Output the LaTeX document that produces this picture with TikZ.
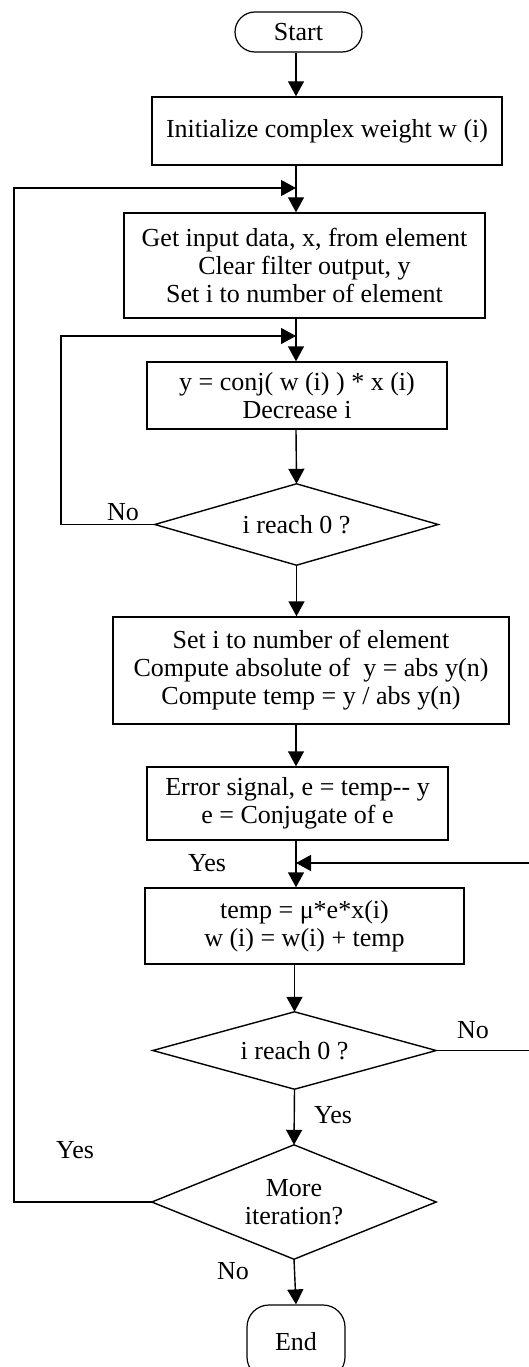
\documentclass[tikz,border=0pt]{standalone}
\usepackage{fontspec}
\setmainfont{Liberation Serif}
\usetikzlibrary{arrows.meta}
\begin{document}
\begin{tikzpicture}[x=1pt,y=-1pt,
  every node/.style={font=\fontsize{26}{28}\selectfont},
  box/.style={draw, line width=1.4pt, align=center, inner sep=0pt},
  term/.style={draw, line width=1.2pt, rounded corners=20pt, align=center, inner sep=0pt},
  dshape/.style={inner sep=0pt, align=center},
  conn/.style={line width=1.4pt},
  arr/.style={conn, -{Triangle[length=15pt,width=16pt]}},
  lbl/.style={inner sep=0pt}
]
\useasboundingbox (0,0) rectangle (529,1367);
\clip (0,0) rectangle (529,1367);

\coordinate (c) at (296,0);
\coordinate (L1) at (14,0);
\coordinate (L2) at (61,0);
\coordinate (R) at (545,0);
\coordinate (j1) at (296,188);
\coordinate (j2) at (296,336);
\coordinate (j3) at (296,863);

\node[term, minimum width=127pt, minimum height=40pt] (start) at (298.5,32) {Start};
\node[box, minimum width=350pt, minimum height=68pt] (init) at (327,131) {Initialize complex weight w (i)};
\node[box, minimum width=361pt, minimum height=105pt] (box2) at (304.5,265.5) {Get input data, x, from element\\Clear filter output, y\\Set i to number of element};
\node[box, minimum width=300pt, minimum height=67pt] (box3) at (297,395.5) {y = conj( w (i) ) * x (i)\\Decrease i};
\node[dshape, minimum width=283pt, minimum height=81pt] (d1) at (296.5,524.5) {i reach 0 ?};
\draw[conn] (d1.north) -- (d1.east) -- (d1.south) -- (d1.west) -- cycle;
\node[box, minimum width=396pt, minimum height=107pt] (box4) at (311,670.5) {Set i to number of element\\Compute absolute of\ \ y = abs y(n)\\Compute temp = y / abs y(n)};
\node[box, minimum width=301pt, minimum height=73pt] (box5) at (297.5,803.5) {Error signal, e = temp-{}- y\\e = Conjugate of e};
\node[box, minimum width=319pt, minimum height=76pt] (box6) at (304.5,926) {temp = μ*e*x(i)\\w (i) = w(i) + temp};
\node[dshape, minimum width=283pt, minimum height=77pt] (d2) at (294.5,1050.5) {i reach 0 ?};
\draw[conn] (d2.north) -- (d2.east) -- (d2.south) -- (d2.west) -- cycle;
\node[dshape, minimum width=284pt, minimum height=114pt] (d3) at (294,1202) {More\\iteration?};
\draw[conn] (d3.north) -- (d3.east) -- (d3.south) -- (d3.west) -- cycle;
\node[term, rounded corners=22pt, minimum width=98pt, minimum height=74pt] (end) at (296,1342) {End};

% main flow
\draw[arr] (start.south -| c) -- (init.north -| c);
\draw[arr] (init.south -| c) -- (box2.north -| c);
\draw[arr] (box2.south -| c) -- (box3.north -| c);
\draw[arr] (box3.south -| c) -- (d1.north);
\draw[arr] (d1.south) -- (box4.north -| d1.south);
\draw[arr] (box4.south -| c) -- (box5.north -| c);
\draw[arr] (box5.south -| c) -- (box6.north -| c);
\draw[arr] (box6.south -| d2.north) -- (d2.north);
\draw[arr] (d2.south) -- (d3.north);
\draw[arr] (d3.south) -- (end.north);

% loops
\draw[arr] (d3.west) -- (d3.west -| L1) -- (L1 |- j1) -- (j1);
\draw[arr] (d1.west) -- (d1.west -| L2) -- (L2 |- j2) -- (j2);
\draw[arr] (d2.east) -- (d2.east -| R) -- (R |- j3) -- (j3);

% labels
\node[lbl] (lno1) at (123,512) {No};
\node[lbl] (lyes1) at (207,863) {Yes};
\node[lbl] (lno2) at (473,1030) {No};
\node[lbl] (lyes2) at (333,1115) {Yes};
\node[lbl] (lyes3) at (75,1150) {Yes};
\node[lbl] (lno3) at (233,1271) {No};
\end{tikzpicture}
\end{document}
